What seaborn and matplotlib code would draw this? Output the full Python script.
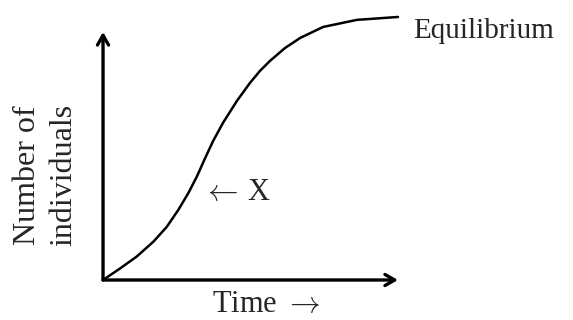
import matplotlib
matplotlib.use('Agg')
import matplotlib.pyplot as plt
import pandas as pd
import seaborn as sns

# logistic growth curve (time 0-10, N 0-100)
time = [0, 0.58, 1.14, 1.71, 2.16, 2.55, 2.89, 3.18, 3.46, 3.73, 4.07,
        4.54, 4.98, 5.32, 5.66, 6.17, 6.68, 7.46, 8.61, 10]
individuals = [0, 4.4, 8.9, 14.6, 20.2, 26.6, 33.0, 39.3, 46.3, 52.8, 59.8,
               68.1, 74.9, 79.5, 83.3, 88.2, 92.0, 96.2, 98.9, 100]

xlabel = r'Time $\rightarrow$'
ylabel = 'Number of\nindividuals'
top_label = 'Equilibrium'
mark_label = r'$\leftarrow\,$X'

sns.set_style('white')
plt.rcParams['font.family'] = ['Liberation Serif', 'DejaVu Serif']
plt.rcParams['mathtext.fontset'] = 'cm'

df = pd.DataFrame({'time': time, 'individuals': individuals})

fig = plt.figure(figsize=(5.73, 3.20), dpi=100)
ax = fig.add_axes([0.1798, 0.125, 0.5148, 0.822])

sns.lineplot(data=df, x='time', y='individuals', color='black',
             linewidth=1.8, ax=ax, clip_on=False,
             solid_joinstyle='round', solid_capstyle='round')

ax.set_xlim(0, 10)
ax.set_ylim(0, 100)
for s in ax.spines.values():
    s.set_visible(False)
ax.set_xticks([])
ax.set_yticks([])
ax.set_xlabel('')
ax.set_ylabel('')

arrow = dict(arrowstyle='->,head_length=0.7,head_width=0.4', lw=2.4,
             color='black', shrinkA=0, shrinkB=0)
ax.annotate('', xy=(1, 0), xytext=(0, 0), xycoords='axes fraction',
            arrowprops=arrow, annotation_clip=False)
ax.annotate('', xy=(0, 0.943), xytext=(0, 0), xycoords='axes fraction',
            arrowprops=arrow, annotation_clip=False)

ax.text(10.5, 92, top_label, fontsize=21, ha='left', va='baseline', clip_on=False)
ax.text(3.36, 30.4, mark_label, fontsize=22, ha='left', va='baseline')
ax.text(3.69, -12.2, xlabel, fontsize=22, ha='left', va='baseline', clip_on=False)
ax.text(-1.95, 40, ylabel, fontsize=23, ha='center', va='center',
        rotation=90, multialignment='center', linespacing=1.35, clip_on=False)

plt.savefig('out.png', dpi=100)
plt.close()
